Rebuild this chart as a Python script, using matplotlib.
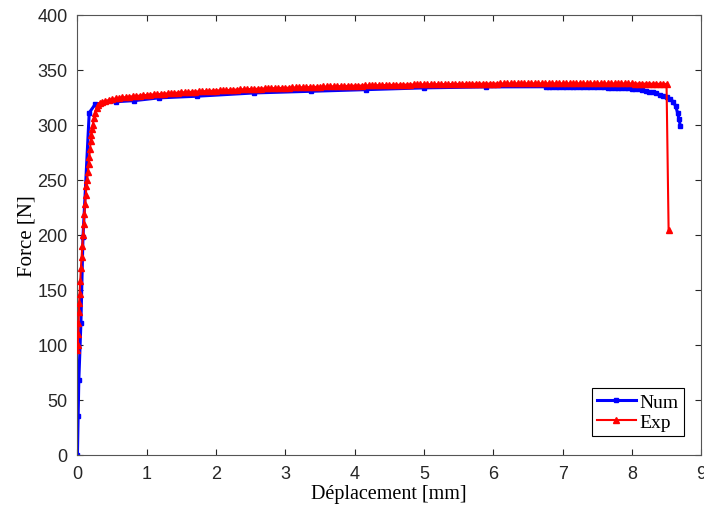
import matplotlib
matplotlib.use("Agg")
import matplotlib.pyplot as plt

# Numerical curve (Num)
num_x = [0.00, 0.01, 0.02, 0.05, 0.08, 0.17, 0.26, 0.55, 0.82, 1.17, 1.72, 2.55, 3.37, 4.17, 5.00, 5.90,
         6.76, 6.80, 6.85, 6.90, 6.95, 7.00, 7.05, 7.10, 7.15, 7.20, 7.25, 7.30, 7.35, 7.40, 7.45,
         7.50, 7.55, 7.60, 7.65, 7.70, 7.75, 7.80, 7.85, 7.90, 7.95, 8.00, 8.05, 8.10, 8.15, 8.20,
         8.25, 8.30, 8.35, 8.40, 8.45, 8.50, 8.55, 8.60, 8.63, 8.66, 8.68, 8.70]
num_y = [0, 35, 68, 120, 198, 311, 319, 321, 322, 324.5, 326, 329, 330.5, 332, 333.6, 334.5,
         334.6, 334.6, 334.6, 334.6, 334.6, 334.6, 334.5, 334.5, 334.5, 334.5, 334.4, 334.4, 334.4, 334.3, 334.3,
         334.2, 334.1, 334.0, 333.9, 333.8, 333.7, 333.6, 333.5, 333.4, 333.2, 333.0, 332.7, 332.3, 331.8, 331.1,
         330.3, 329.4, 328.5, 327.5, 326.5, 325.5, 323.5, 321.0, 317.0, 311.0, 305.0, 299.0]

# Experimental curve (Exp)
exp_x = [0.00, 0.005, 0.01, 0.015, 0.02, 0.025, 0.03, 0.04, 0.05, 0.06, 0.07, 0.08, 0.09, 0.10, 0.11,
         0.12, 0.13, 0.14, 0.15, 0.16, 0.17, 0.18, 0.19, 0.20, 0.21, 0.22, 0.24, 0.26, 0.28, 0.30, 0.33, 0.36,
         0.40, 0.45, 0.50, 0.55, 0.60, 0.65, 0.70, 0.75, 0.80, 0.85, 0.90, 0.95,
         1.00, 1.05, 1.10, 1.15, 1.20, 1.25, 1.30, 1.35, 1.40, 1.45, 1.50, 1.55, 1.60, 1.65, 1.70, 1.75, 1.80, 1.85, 1.90, 1.95,
         2.00, 2.05, 2.10, 2.15, 2.20, 2.25, 2.30, 2.35, 2.40, 2.45, 2.50, 2.55, 2.60, 2.65, 2.70, 2.75, 2.80, 2.85, 2.90, 2.95,
         3.00, 3.05, 3.10, 3.15, 3.20, 3.25, 3.30, 3.35, 3.40, 3.45, 3.50, 3.55, 3.60, 3.65, 3.70, 3.75, 3.80, 3.85, 3.90, 3.95,
         4.00, 4.05, 4.10, 4.15, 4.20, 4.25, 4.30, 4.35, 4.40, 4.45, 4.50, 4.55, 4.60, 4.65, 4.70, 4.75, 4.80, 4.85, 4.90, 4.95,
         5.00, 5.05, 5.10, 5.15, 5.20, 5.25, 5.30, 5.35, 5.40, 5.45, 5.50, 5.55, 5.60, 5.65, 5.70, 5.75, 5.80, 5.85, 5.90, 5.95,
         6.00, 6.05, 6.10, 6.15, 6.20, 6.25, 6.30, 6.35, 6.40, 6.45, 6.50, 6.55, 6.60, 6.65, 6.70, 6.75, 6.80, 6.85, 6.90, 6.95,
         7.00, 7.05, 7.10, 7.15, 7.20, 7.25, 7.30, 7.35, 7.40, 7.45, 7.50, 7.55, 7.60, 7.65, 7.70, 7.75, 7.80, 7.85, 7.90, 7.95,
         8.00, 8.05, 8.10, 8.15, 8.20, 8.25, 8.30, 8.35, 8.40, 8.45, 8.50, 8.53]
exp_y = [95, 100, 110, 120, 130, 138, 146, 158, 170, 180, 190, 200, 210, 219, 228,
         236, 244, 250, 257, 264, 271, 278, 285, 291, 296, 300, 306, 311, 315, 318, 320, 321,
         321.5, 322.6, 323.4, 324.0, 324.5, 324.9, 325.3, 325.7, 326.0, 326.3, 326.6, 326.9,
         327.2, 327.4, 327.7, 327.9, 328.1, 328.4, 328.6, 328.8, 329.1, 329.3, 329.5, 329.7, 329.9, 330.0, 330.2, 330.4, 330.5, 330.7, 330.9, 331.0,
         331.2, 331.3, 331.5, 331.6, 331.8, 331.9, 332.1, 332.2, 332.3, 332.5, 332.6, 332.7, 332.8, 333.0, 333.1, 333.2, 333.3, 333.4, 333.6, 333.7,
         333.8, 333.9, 334.0, 334.1, 334.2, 334.3, 334.4, 334.5, 334.6, 334.7, 334.8, 334.9, 334.9, 335.0, 335.1, 335.2, 335.3, 335.3, 335.4, 335.5,
         335.6, 335.6, 335.7, 335.8, 335.8, 335.9, 336.0, 336.0, 336.1, 336.2, 336.3, 336.3, 336.4, 336.4, 336.5, 336.6, 336.6, 336.7, 336.7, 336.8,
         336.8, 336.9, 336.9, 336.9, 337.0, 337.0, 337.1, 337.1, 337.1, 337.2, 337.2, 337.2, 337.3, 337.3, 337.3, 337.4, 337.4, 337.4, 337.5, 337.5,
         337.5, 337.5, 337.6, 337.6, 337.6, 337.6, 337.7, 337.7, 337.7, 337.7, 337.7, 337.7, 337.8, 337.8, 337.8, 337.8, 337.8, 337.8, 337.8, 337.8,
         337.8, 337.8, 337.8, 337.8, 337.8, 337.8, 337.8, 337.8, 337.8, 337.8, 337.8, 337.7, 337.7, 337.7, 337.7, 337.7, 337.6, 337.6, 337.6, 337.6,
         337.6, 337.5, 337.5, 337.5, 337.4, 337.4, 337.4, 337.3, 337.3, 337.2, 337.2, 204]

x_ticks = [0, 1, 2, 3, 4, 5, 6, 7, 8, 9]
y_ticks = [0, 50, 100, 150, 200, 250, 300, 350, 400]

fig = plt.figure(figsize=(7.04, 5.10), dpi=100)
ax = fig.add_axes([0.110, 0.106, 0.886, 0.863])

ax.plot(num_x, num_y, color='#0000ff', lw=2.2, marker='s', ms=3.2, label='Num', zorder=2)
ax.plot(exp_x, exp_y, color='#ff0000', lw=1.5, marker='^', ms=4.5, label='Exp', zorder=3)

ax.set_xlim(0, 9)
ax.set_ylim(0, 400)
ax.set_xticks(x_ticks)
ax.set_yticks(y_ticks)
ax.tick_params(direction='in', length=4, colors='#262626', labelsize=13,
               top=True, right=True, width=0.8)
ax.tick_params(axis='x', pad=7)
ax.tick_params(axis='y', pad=7)
for lab in ax.get_xticklabels() + ax.get_yticklabels():
    lab.set_fontfamily('Liberation Sans')
    lab.set_color('#262626')
for sp in ax.spines.values():
    sp.set_color('#555555')
    sp.set_linewidth(0.8)

ax.set_xlabel('Déplacement [mm]', family='Liberation Serif', fontsize=14.5, labelpad=2)
ax.set_ylabel('Force [N]', family='Liberation Serif', fontsize=15, labelpad=1)

leg = ax.legend(loc='lower right', bbox_to_anchor=(0.972, 0.043),
                prop={'family': 'Liberation Serif', 'size': 14},
                fancybox=False, edgecolor='black', framealpha=1,
                handlelength=2.0, handletextpad=0.2, borderpad=0.25, labelspacing=0.15,
                borderaxespad=0)
leg.get_frame().set_linewidth(0.8)

fig.savefig('out.png', dpi=100)
